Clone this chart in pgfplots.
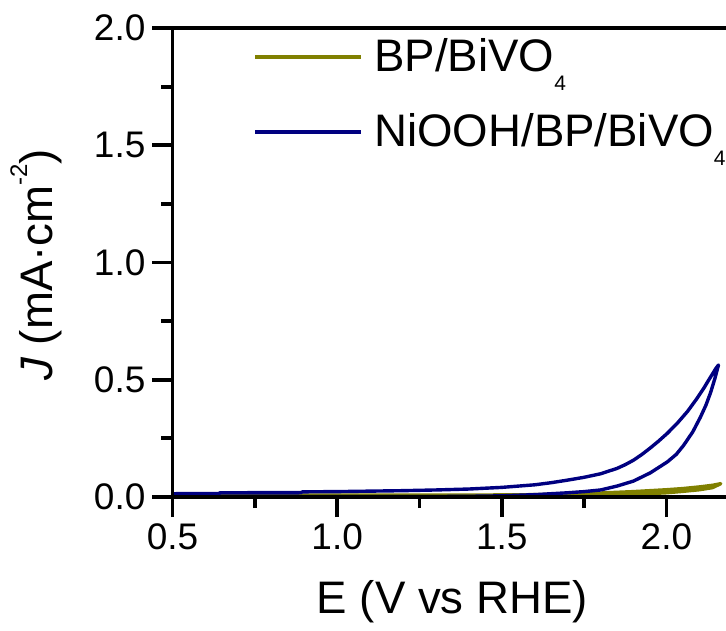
\documentclass[border=0pt]{standalone}
\usepackage{pgfplots}
\pgfplotsset{compat=1.18}
\usepackage{fontspec}
\setmainfont{Liberation Sans}
\definecolor{bpolive}{RGB}{128,128,0}
\definecolor{ninavy}{RGB}{0,0,128}

% cyclic sweeps: forward branch up to the vertex, then back
\pgfplotstableread{
E J
0.50 0.008
0.80 0.008
1.10 0.008
1.40 0.008
1.50 0.009
1.60 0.010
1.70 0.013
1.80 0.017
1.90 0.023
2.00 0.031
2.05 0.036
2.10 0.043
2.14 0.050
2.165 0.057
2.14 0.040
2.10 0.031
2.05 0.024
2.00 0.018
1.90 0.011
1.80 0.007
1.70 0.004
1.60 0.002
1.40 0.001
1.00 0.001
0.50 0.001
}\bpbivo

\pgfplotstableread{
E J
0.50 0.002
0.80 0.002
1.10 0.002
1.30 0.002
1.40 0.003
1.50 0.005
1.60 0.010
1.70 0.018
1.75 0.023
1.80 0.030
1.851 0.047
1.90 0.068
1.951 0.103
2.003 0.150
2.030 0.182
2.052 0.220
2.080 0.278
2.103 0.340
2.120 0.392
2.134 0.445
2.147 0.505
2.158 0.563
2.150 0.548
2.143 0.532
2.128 0.498
2.113 0.463
2.090 0.415
2.064 0.365
2.035 0.318
2.003 0.272
1.975 0.237
1.95 0.208
1.925 0.181
1.90 0.157
1.875 0.138
1.85 0.122
1.80 0.099
1.75 0.084
1.70 0.072
1.65 0.061
1.60 0.052
1.50 0.041
1.40 0.034
1.30 0.030
1.20 0.027
1.00 0.023
0.895 0.022
0.89 0.019
0.645 0.018
0.64 0.015
0.50 0.014
}\niooh

\begin{document}
\begin{tikzpicture}
\clip (-86.25pt,-66.5pt) rectangle (276.75pt,248.5pt);
\begin{axis}[
  at={(0,0)}, anchor=south west,
  scale only axis, width=279.9pt, height=234.5pt,
  xmin=0.5, xmax=2.2, ymin=0, ymax=2.0,
  xtick={0.5,1.0,1.5,2.0}, ytick={0,0.5,1.0,1.5,2.0},
  minor tick num=1,
  tick pos=left, tick align=outside,
  major tick length=10pt, minor tick length=5.5pt,
  axis line style={line width=1.9pt},
  tick style={black, line width=1.9pt},
  axis on top,
  /pgf/number format/assume math mode=true,
  ticklabel style={font=\fontsize{18.5}{20}\selectfont},
  xticklabel style={/pgf/number format/.cd, fixed, fixed zerofill, precision=1},
  yticklabel style={/pgf/number format/.cd, fixed, fixed zerofill, precision=1},
  label style={font=\fontsize{22.8}{24}\selectfont},
  xlabel={E (V vs RHE)},
  xlabel style={at={(axis description cs:0.5,0)}, anchor=base, yshift=-58pt},
  ylabel={\textit{J} (mA·cm\raisebox{0.55em}{\fontsize{12}{13}\selectfont -2})},
  ylabel style={at={(axis description cs:-0.2440,0.4947)}, anchor=center},
  legend cell align=left,
  legend style={draw=none, fill=none, inner sep=0pt,
    at={(axis description cs:0.1438,1)}, anchor=north west, yshift=-5pt,
    font=\fontsize{22.8}{24}\selectfont,
    row sep=17pt,
    nodes={inner sep=0pt, text height=16.5pt, text depth=4pt},
    /tikz/every odd column/.append style={column sep=5.8pt}},
  legend image code/.code={\draw[#1] (0pt,1pt) -- (53pt,1pt);},
]
\addplot[bpolive, line width=1.7pt, line join=round] table[x=E, y=J] {\bpbivo};
\addlegendentry{BP/BiVO\raisebox{-0.41em}{\fontsize{10.5}{11}\selectfont 4}}
\addplot[ninavy, line width=1.7pt, line join=round] table[x=E, y=J] {\niooh};
\addlegendentry{NiOOH/BP/BiVO\raisebox{-0.41em}{\fontsize{10.5}{11}\selectfont 4}}
\end{axis}
\end{tikzpicture}
\end{document}
